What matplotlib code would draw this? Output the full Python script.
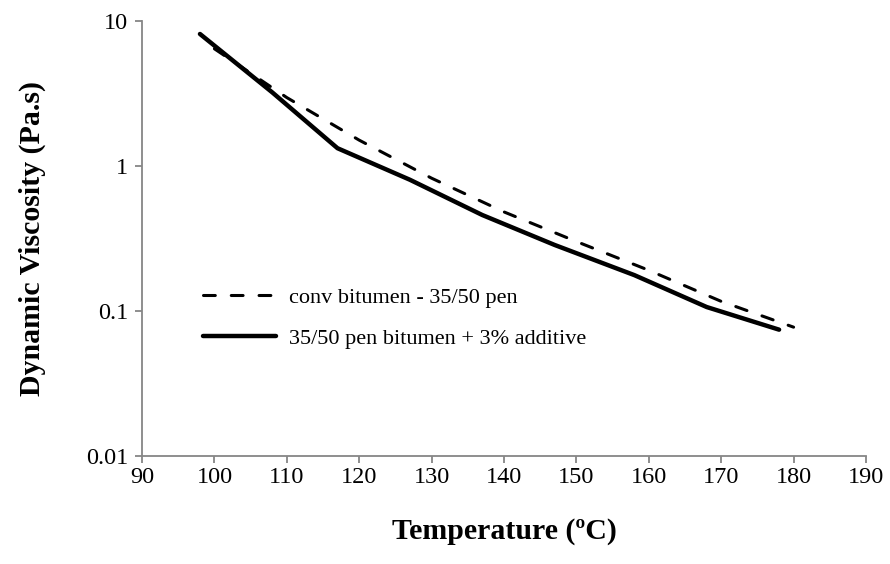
import matplotlib
matplotlib.use("Agg")
import matplotlib.pyplot as plt

plt.rcParams['font.family'] = ['Liberation Serif', 'DejaVu Serif']
plt.rcParams['lines.scale_dashes'] = False

# Data
temp_conv = [100, 110, 120, 130, 140, 150, 160, 170, 180]
visc_conv = [6.4, 2.95, 1.5, 0.82, 0.48, 0.30, 0.19, 0.116, 0.077]

temp_add = [98, 108, 117, 127, 137, 147, 158, 168, 178]
visc_add = [8.1, 3.2, 1.32, 0.80, 0.457, 0.284, 0.176, 0.106, 0.074]

label_conv = "conv bitumen - 35/50 pen"
label_add = "35/50 pen bitumen + 3% additive"

x_ticks = list(range(90, 191, 10))
y_ticks = [0.01, 0.1, 1, 10]
y_ticklabels = ["0.01", "0.1", "1", "10"]

fig = plt.figure(figsize=(8.9, 5.64), dpi=100)
ax = fig.add_axes([0.1596, 0.192, 0.9730 - 0.1596, 0.9633 - 0.192])

ax.plot(temp_conv, visc_conv, color='black', lw=2.2, linestyle=(0, (8.5, 11.5)),
        dash_capstyle='round', solid_capstyle='round', label=label_conv)
ax.plot(temp_add, visc_add, color='black', lw=3.2, solid_capstyle='round',
        solid_joinstyle='round', label=label_add)

ax.set_yscale('log')
ax.set_xlim(90, 190)
ax.set_ylim(0.01, 10)
ax.set_xticks(x_ticks)
ax.set_xticklabels([str(t) for t in x_ticks])
ax.set_yticks(y_ticks)
ax.set_yticklabels(y_ticklabels)
ax.minorticks_off()

gray = '#868686'
for s in ['top', 'right']:
    ax.spines[s].set_visible(False)
for s in ['left', 'bottom']:
    ax.spines[s].set_color(gray)
    ax.spines[s].set_linewidth(1.3)

ax.tick_params(axis='both', which='major', direction='out', length=5, width=1.3,
               color=gray, labelsize=17.5, labelcolor='black')
ax.tick_params(axis='y', pad=5)
ax.tick_params(axis='x', pad=3)

ax.set_xlabel('Temperature (ºC)', fontsize=21.5, fontweight='bold')
ax.set_ylabel('Dynamic Viscosity (Pa.s)', fontsize=21.5, fontweight='bold')
ax.xaxis.set_label_coords(0.5, -0.143)
ax.xaxis.label.set_va('top')
ax.yaxis.set_label_coords(-0.133, 0.5)

leg = ax.legend(loc='upper left', bbox_to_anchor=(203 / 890, 1 - 287 / 564),
                bbox_transform=fig.transFigure, frameon=False, fontsize=16,
                handlelength=3.3, handletextpad=0.55, labelspacing=0.92,
                borderpad=0, borderaxespad=0)

fig.savefig('out.png', dpi=100)
